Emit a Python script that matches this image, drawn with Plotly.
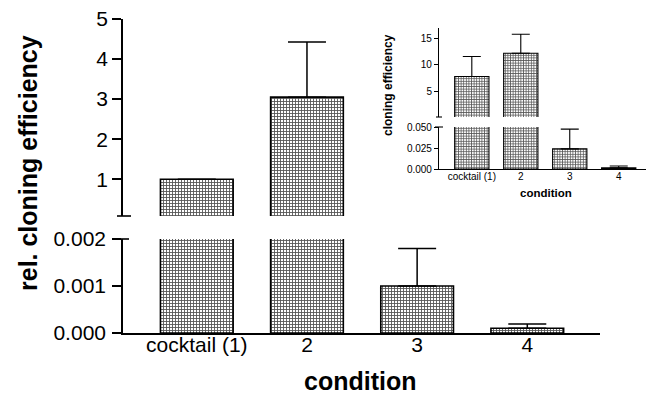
import plotly.graph_objects as go

# ---- data ----
categories = ["cocktail (1)", "2", "3", "4"]
main_values = [1.0, 3.05, 0.0010, 0.00010]
main_errors = [0.0, 1.38, 0.0008, 0.00009]
inset_values = [7.8, 12.2, 0.024, 0.0013]
inset_errors = [3.8, 3.6, 0.0235, 0.0022]

main_low_ticks = [0, 0.001, 0.002]
main_low_ticktext = ["0.000", "0.001", "0.002"]
main_up_ticks = [1, 2, 3, 4, 5]
inset_low_ticks = [0, 0.025, 0.05]
inset_low_ticktext = ["0.000", "0.025", "0.050"]
inset_up_ticks = [5, 10, 15]

# axis-break ranges
main_low_range = [0, 0.002]
main_up_range = [0.08, 5.002]
inset_low_range = [0, 0.05]
inset_up_range = [0.1, 17]

PAGE_OFF = 8  # page body margin
W, H = 654 - PAGE_OFF, 399 - PAGE_OFF
FONT = "Liberation Sans, Arial, sans-serif"


def px_x(p):
    return (p - PAGE_OFF) / W


def px_y(p):
    return 1 - (p - PAGE_OFF) / H


def above(values, lo):
    # bars that do not reach the upper segment are not drawn there
    return [v if v > lo else None for v in values]


fig = go.Figure()

main_pattern = dict(shape="+", size=3, solidity=0.5, fgcolor="#555555", bgcolor="#ffffff")
inset_pattern = dict(shape="+", size=2.6, solidity=0.5, fgcolor="#555555", bgcolor="#ffffff")

for ya, vals in [("y", main_values), ("y2", above(main_values, main_up_range[0]))]:
    fig.add_trace(go.Bar(
        x=categories, y=vals, xaxis="x", yaxis=ya, width=0.66,
        marker=dict(color="#888888", pattern=main_pattern, line=dict(color="black", width=1.6)),
        error_y=dict(type="data", symmetric=False, array=main_errors,
                     arrayminus=[0] * len(main_errors), color="black", thickness=1.5, width=19),
        showlegend=False,
    ))

for ya, vals in [("y3", inset_values), ("y4", above(inset_values, inset_up_range[0]))]:
    fig.add_trace(go.Bar(
        x=categories, y=vals, xaxis="x3", yaxis=ya, width=0.7,
        marker=dict(color="#888888", pattern=inset_pattern, line=dict(color="black", width=1.1)),
        error_y=dict(type="data", symmetric=False, array=inset_errors,
                     arrayminus=[0] * len(inset_errors), color="black", thickness=1.1, width=9),
        showlegend=False,
    ))

main_x_dom = [px_x(123), px_x(600)]
inset_x_dom = [px_x(439), px_x(653)]

axis_common = dict(showline=True, linecolor="black", showgrid=False, zeroline=False,
                   color="black", fixedrange=True, automargin=False, ticklabeloverflow="allow")

fig.update_layout(
    template="none",
    width=W, height=H, autosize=False,
    margin=dict(l=0, r=0, t=0, b=0, pad=0),
    paper_bgcolor="white", plot_bgcolor="rgba(0,0,0,0)",
    font=dict(family=FONT, color="black"),
    showlegend=False,
    xaxis=dict(**axis_common, domain=main_x_dom, anchor="y", type="category",
               categoryorder="array", categoryarray=categories,
               range=[-0.67, 3.66], ticks="", linewidth=1.6, ticklabelstandoff=-8,
               tickfont=dict(size=21, family=FONT)),
    yaxis=dict(**axis_common, domain=[px_y(333), px_y(239)], anchor="x",
               range=main_low_range, tickvals=main_low_ticks, ticktext=main_low_ticktext,
               ticks="outside", ticklen=9, tickwidth=1.6, linewidth=1.6, ticklabelstandoff=2,
               tickfont=dict(size=21, family=FONT)),
    yaxis2=dict(**axis_common, domain=[px_y(216), px_y(19)], anchor="x",
                range=main_up_range, tickvals=main_up_ticks,
                ticks="outside", ticklen=9, tickwidth=1.6, linewidth=1.6,
                tickfont=dict(size=21, family=FONT)),
    xaxis3=dict(**axis_common, domain=inset_x_dom, anchor="y3", type="category",
                categoryorder="array", categoryarray=categories,
                range=[-0.67, 3.7], ticks="", linewidth=1.1, ticklabelstandoff=-2,
                tickfont=dict(size=10, family=FONT)),
    yaxis3=dict(**axis_common, domain=[px_y(169), px_y(127)], anchor="x3",
                range=inset_low_range, tickvals=inset_low_ticks, ticktext=inset_low_ticktext,
                ticks="outside", ticklen=4, tickwidth=1.1, linewidth=1.1,
                tickfont=dict(size=10, family=FONT)),
    yaxis4=dict(**axis_common, domain=[px_y(117), px_y(28)], anchor="x3",
                range=inset_up_range, tickvals=inset_up_ticks,
                ticks="outside", ticklen=4, tickwidth=1.1, linewidth=1.1,
                tickfont=dict(size=10, family=FONT)),
)

shapes = [
    dict(type="line", xref="paper", yref="paper", x0=px_x(117), x1=px_x(131),
         y0=px_y(216), y1=px_y(216), line=dict(color="black", width=1.6)),
    dict(type="line", xref="paper", yref="paper", x0=px_x(114), x1=px_x(129),
         y0=px_y(239), y1=px_y(239), line=dict(color="black", width=1.6)),
    dict(type="line", xref="paper", yref="paper", x0=px_x(436), x1=px_x(442),
         y0=px_y(117), y1=px_y(117), line=dict(color="black", width=1.1)),
    dict(type="line", xref="paper", yref="paper", x0=px_x(435), x1=px_x(443),
         y0=px_y(127), y1=px_y(127), line=dict(color="black", width=1.1)),
]
fig.update_layout(shapes=shapes)

annotations = [
    dict(text="<b>rel. cloning efficiency</b>", x=px_x(28), y=px_y(163), xref="paper", yref="paper",
         textangle=-90, showarrow=False, font=dict(size=25, family=FONT, color="black"),
         xanchor="center", yanchor="middle"),
    dict(text="<b>condition</b>", x=px_x(360), y=px_y(381), xref="paper", yref="paper",
         showarrow=False, font=dict(size=25, family=FONT, color="black"),
         xanchor="center", yanchor="middle"),
    dict(text="<b>cloning efficiency</b>", x=px_x(388), y=px_y(85), xref="paper", yref="paper",
         textangle=-90, showarrow=False, font=dict(size=12, family=FONT, color="black"),
         xanchor="center", yanchor="middle"),
    dict(text="<b>condition</b>", x=px_x(546), y=px_y(193), xref="paper", yref="paper",
         showarrow=False, font=dict(size=11.5, family=FONT, color="black"),
         xanchor="center", yanchor="middle"),
]
fig.update_layout(annotations=annotations)

fig.write_html("out.html")
